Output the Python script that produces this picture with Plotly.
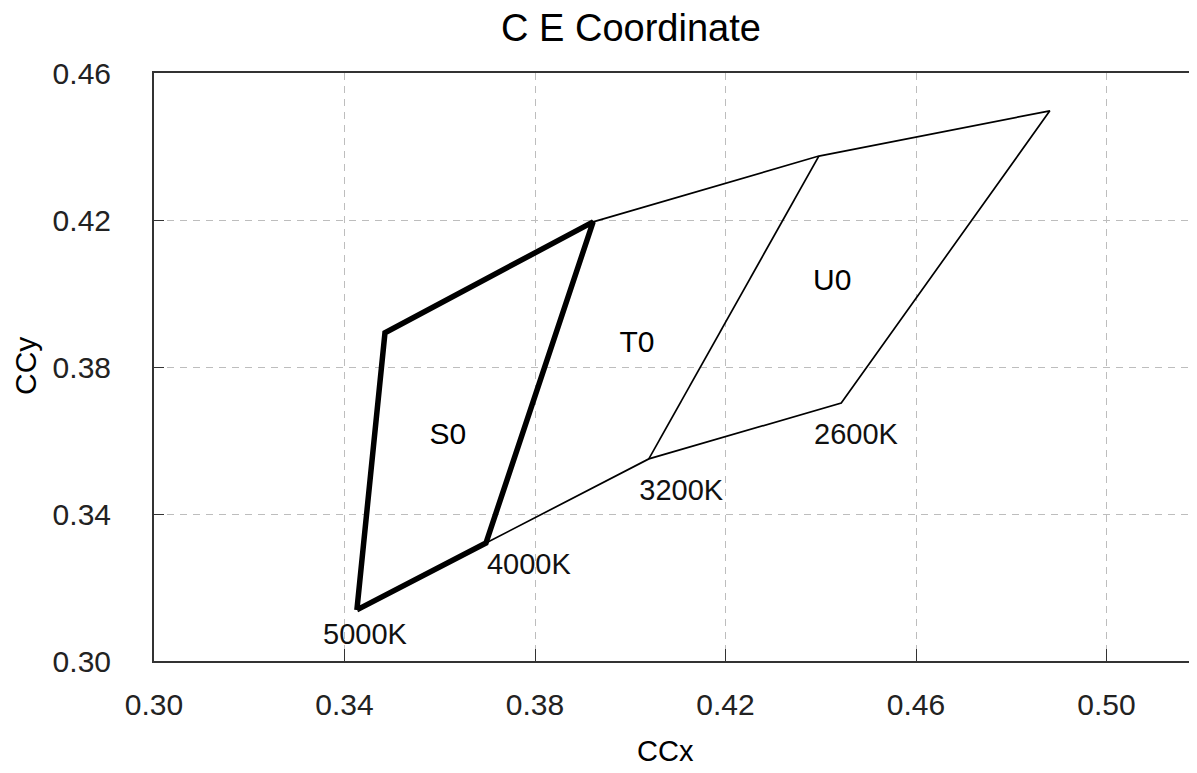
import plotly.graph_objects as go

# Vertex coordinates (CIE x, y)
v5000 = (0.3426, 0.3139)
s0_ul = (0.3485, 0.3893)
v4000 = (0.3697, 0.3321)
s0_ur = (0.3922, 0.4195)
v3200 = (0.4039, 0.3550)
t0_ur = (0.4396, 0.4374)
v2600 = (0.4443, 0.3702)
u0_ur = (0.4881, 0.4497)

# thick S0 quadrangle
s0_x = [v5000[0], s0_ul[0], s0_ur[0], v4000[0], v5000[0]]
s0_y = [v5000[1], s0_ul[1], s0_ur[1], v4000[1], v5000[1]]

# thin outline segments (None separates segments)
thin_x = [v4000[0], v3200[0], v2600[0], u0_ur[0], t0_ur[0], s0_ur[0], None,
          v3200[0], t0_ur[0]]
thin_y = [v4000[1], v3200[1], v2600[1], u0_ur[1], t0_ur[1], s0_ur[1], None,
          v3200[1], t0_ur[1]]

cct_labels = ["5000K", "4000K", "3200K", "2600K"]
cct_x = [0.3443, 0.3787, 0.4107, 0.4474]
cct_y = [0.3065, 0.3256, 0.3457, 0.3610]

region_labels = ["S0", "T0", "U0"]
region_x = [0.3617, 0.4014, 0.4424]
region_y = [0.3612, 0.3860, 0.4029]

x_ticks = [0.30, 0.34, 0.38, 0.42, 0.46, 0.50]
y_ticks = [0.30, 0.34, 0.38, 0.42, 0.46]
x_ticktext = ["0.30", "0.34", "0.38", "0.42", "0.46", "0.50"]
y_ticktext = ["0.30", "0.34", "0.38", "0.42", "0.46"]

FONT = "Liberation Sans, Arial, sans-serif"

W, H = 1189, 765
ML, MR, MT, MB = 146, 0, 65, 112

fig = go.Figure()
fig.add_trace(go.Scatter(x=thin_x, y=thin_y, mode="lines",
                         line=dict(color="black", width=1.7), showlegend=False,
                         hoverinfo="skip"))
fig.add_trace(go.Scatter(x=s0_x, y=s0_y, mode="lines",
                         line=dict(color="black", width=5.5), showlegend=False,
                         hoverinfo="skip"))
fig.add_trace(go.Scatter(x=cct_x, y=cct_y, mode="text", text=cct_labels,
                         textfont=dict(family=FONT, size=29, color="#111"),
                         showlegend=False, hoverinfo="skip"))
fig.add_trace(go.Scatter(x=region_x, y=region_y, mode="text", text=region_labels,
                         textfont=dict(family=FONT, size=30, color="black"),
                         showlegend=False, hoverinfo="skip"))

plot_h = H - MT - MB
plot_w = W - ML - MR
fig.update_layout(
    width=W, height=H,
    margin=dict(l=ML, r=MR, t=MT, b=MB),
    paper_bgcolor="white", plot_bgcolor="white",
    title=dict(text="C E Coordinate", x=623 / W, xanchor="center",
               y=1 - 20 / H, yanchor="middle",
               font=dict(family=FONT, size=38, color="black")),
    font=dict(family=FONT, color="#222"),
    annotations=[
        dict(text="CCx", xref="paper", yref="paper",
             x=(657 - ML) / plot_w, y=-(743 - (H - MB)) / plot_h,
             xanchor="center", yanchor="middle", showarrow=False,
             font=dict(family=FONT, size=29, color="black")),
        dict(text="CCy", xref="paper", yref="paper", textangle=-90,
             x=(17 - ML) / plot_w, y=((H - MB) - 358) / plot_h,
             xanchor="center", yanchor="middle", showarrow=False,
             font=dict(family=FONT, size=30, color="black")),
    ],
)
fig.update_xaxes(
    range=[0.30, 0.519], tickvals=x_ticks, ticktext=x_ticktext,
    tickfont=dict(size=30, family=FONT, color="#222"),
    showgrid=True, gridcolor="#bdbdbd", griddash="7px,6px", gridwidth=1,
    showline=True, linecolor="#333", linewidth=2, mirror=True,
    ticks="inside", ticklen=12, tickcolor="#333", tickwidth=1,
    zeroline=False, ticklabelstandoff=16,
)
fig.update_yaxes(
    range=[0.30, 0.46], tickvals=y_ticks, ticktext=y_ticktext,
    tickfont=dict(size=30, family=FONT, color="#222"),
    showgrid=True, gridcolor="#bdbdbd", griddash="7px,6px", gridwidth=1,
    showline=True, linecolor="#333", linewidth=2,
    ticks="inside", ticklen=10, tickcolor="#333", tickwidth=1,
    zeroline=False, ticklabelstandoff=35,
)

fig.write_html("out.html")
